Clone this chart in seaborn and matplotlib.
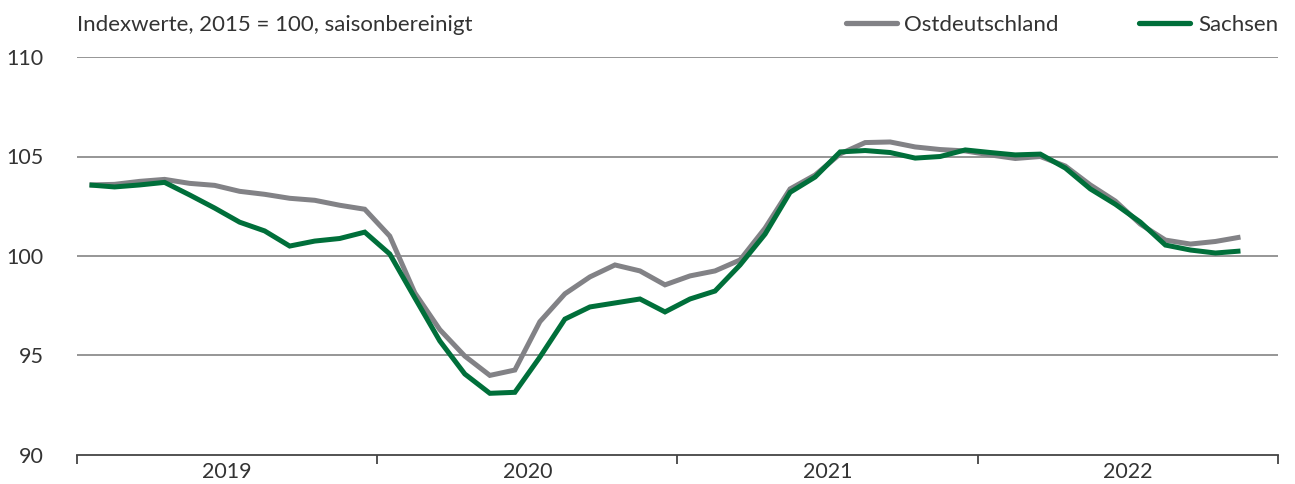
import numpy as np
import pandas as pd
import matplotlib
matplotlib.use("Agg")
import matplotlib.pyplot as plt
import seaborn as sns
from matplotlib.lines import Line2D

# ---- data ----
years = ["2019", "2020", "2021", "2022"]
ostdeutschland = [103.57, 103.6, 103.75, 103.85, 103.65, 103.55, 103.25, 103.1, 102.9, 102.8, 102.55, 102.35,
                  101.0, 98.15, 96.3, 94.97, 94.0, 94.27, 96.7, 98.1, 98.95, 99.55, 99.25, 98.55,
                  99.0, 99.25, 99.8, 101.4, 103.37, 104.07, 105.13, 105.7, 105.73, 105.48, 105.35, 105.28,
                  105.08, 104.9, 105.0, 104.52, 103.57, 102.76, 101.6, 100.8, 100.6, 100.73, 100.95]
sachsen = [103.57, 103.47, 103.57, 103.7, 103.07, 102.41, 101.7, 101.26, 100.5, 100.75, 100.88, 101.2,
           100.1, 97.9, 95.73, 94.07, 93.1, 93.15, 94.92, 96.83, 97.44, 97.64, 97.84, 97.19,
           97.84, 98.24, 99.55, 101.1, 103.2, 103.97, 105.23, 105.3, 105.2, 104.92, 105.0, 105.33,
           105.2, 105.08, 105.12, 104.42, 103.37, 102.6, 101.7, 100.55, 100.3, 100.15, 100.25]
series_names = ["Ostdeutschland", "Sachsen"]
yticks = [90, 95, 100, 105, 110]
title = "Indexwerte, 2015 = 100, saisonbereinigt"

months = np.arange(len(ostdeutschland))
df = pd.DataFrame({
    "Monat": np.concatenate([months, months]),
    "Wert": ostdeutschland + sachsen,
    "Region": [series_names[0]] * len(ostdeutschland) + [series_names[1]] * len(sachsen),
})

sns.set_theme(style="white")
plt.rcParams["font.family"] = ["Lato", "DejaVu Sans"]

W, H = 1295, 484
fig = plt.figure(figsize=(W / 100, H / 100), dpi=100)
ax = fig.add_axes([77 / W, (H - 455) / H, (1278 - 77) / W, (455 - 57) / H])

text_color = "#333333"
fs = 16
palette = {"Ostdeutschland": "#828286", "Sachsen": "#006f3a"}

ax.set_ylim(90, 110)
ax.set_xlim(-0.5, len(months) - 0.5)
for v in yticks[1:]:
    ax.axhline(v, color="#8e8e8e", lw=1.3, zorder=0)

sns.lineplot(data=df, x="Monat", y="Wert", hue="Region", palette=palette, ax=ax,
             linewidth=3.6, legend=False, zorder=3)
for line in ax.get_lines():
    line.set_solid_capstyle("butt")
    line.set_solid_joinstyle("miter")

for s in ["top", "right", "left"]:
    ax.spines[s].set_visible(False)
ax.spines["bottom"].set_color("#444444")
ax.spines["bottom"].set_linewidth(1.3)

ax.set_yticks(yticks)
ax.set_yticklabels([str(v) for v in yticks])
ax.tick_params(axis="y", left=False, length=0, pad=24, labelsize=fs - 0.5, labelcolor=text_color)

boundaries = [-0.5 + 12 * i for i in range(len(years) + 1)]
ax.set_xticks(boundaries)
ax.set_xticklabels([""] * len(boundaries))
ax.tick_params(axis="x", bottom=True, length=6.5, width=1.3, color="#444444", direction="out")
for i, y in enumerate(years):
    ax.text(boundaries[i] + 6, -(472 - 455) / (455 - 57), y, transform=ax.get_xaxis_transform(),
            ha="center", va="center", fontsize=fs - 0.5, color=text_color)

ax.set_xlabel("")
ax.set_ylabel("")

fig.text(77 / W, 1 - 25 / H, title, ha="left", va="center", fontsize=fs, color=text_color)

handles = [Line2D([], [], color=palette[n], lw=3.8, solid_capstyle="round") for n in series_names]
leg = ax.legend(handles, series_names, ncol=2, loc="center right",
                bbox_to_anchor=(1.0, 1 + (57 - 25) / (455 - 57)), frameon=False,
                fontsize=fs, handlelength=2.3, handletextpad=0.35, columnspacing=3.6,
                borderaxespad=0, borderpad=0)
for t in leg.get_texts():
    t.set_color(text_color)

fig.savefig("out.png", dpi=100)
